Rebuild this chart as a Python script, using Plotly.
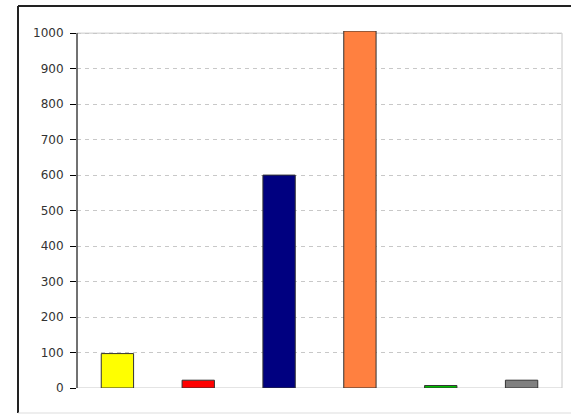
import plotly.graph_objects as go

categories = ["A", "B", "C", "D", "E", "F"]
values = [97, 22, 600, 1006, 7, 22]
colors = ["#FFFF00", "#FF0000", "#000080", "#FF8040", "#00C000", "#808080"]
y_ticks = list(range(0, 1001, 100))

W, H = 571, 414
L, R, T, B = 77, 9, 31, 26
pw, ph = W - L - R, H - T - B
YMAX = 1006

def px(x):
    return (x - L) / pw

def py(y):
    return (H - B - y) / ph

fig = go.Figure(go.Bar(
    x=categories, y=values,
    marker=dict(color=colors, line=dict(color="#333333", width=1)),
    width=0.4,
))

fig.update_layout(
    width=W, height=H,
    margin=dict(l=L, r=R, t=T, b=B),
    paper_bgcolor="white", plot_bgcolor="white",
    showlegend=False,
    font=dict(family="DejaVu Sans, Verdana, sans-serif", size=12, color="#333333"),
    xaxis=dict(showticklabels=False, showgrid=False, zeroline=False,
               showline=False, ticks="", range=[-0.5, 5.5]),
    yaxis=dict(range=[0, YMAX], tickvals=y_ticks, showgrid=True,
               gridcolor="#c8c8c8", griddash="4px,4px", gridwidth=1,
               zeroline=False, showline=False,
               ticks="outside", ticklen=6, tickcolor="#000000",
               ticklabelstandoff=4),
    shapes=[
        # plot area border (light gray)
        dict(type="rect", xref="paper", yref="y", x0=0, x1=1, y0=0, y1=1000,
             line=dict(color="#c8c8c8", width=1), layer="below"),
        # left axis line (black)
        dict(type="line", xref="paper", yref="y", x0=0, x1=0, y0=0, y1=1000,
             line=dict(color="#000000", width=1), layer="above"),
        # outer frame
        dict(type="line", xref="paper", yref="paper", x0=px(18), x1=px(575),
             y0=py(6), y1=py(6), line=dict(color="#222222", width=2)),
        dict(type="line", xref="paper", yref="paper", x0=px(18), x1=px(18),
             y0=py(6), y1=py(413), line=dict(color="#222222", width=2)),
        dict(type="line", xref="paper", yref="paper", x0=px(18), x1=px(575),
             y0=py(413), y1=py(413), line=dict(color="#dddddd", width=1)),
    ],
)

fig.write_html("out.html")
